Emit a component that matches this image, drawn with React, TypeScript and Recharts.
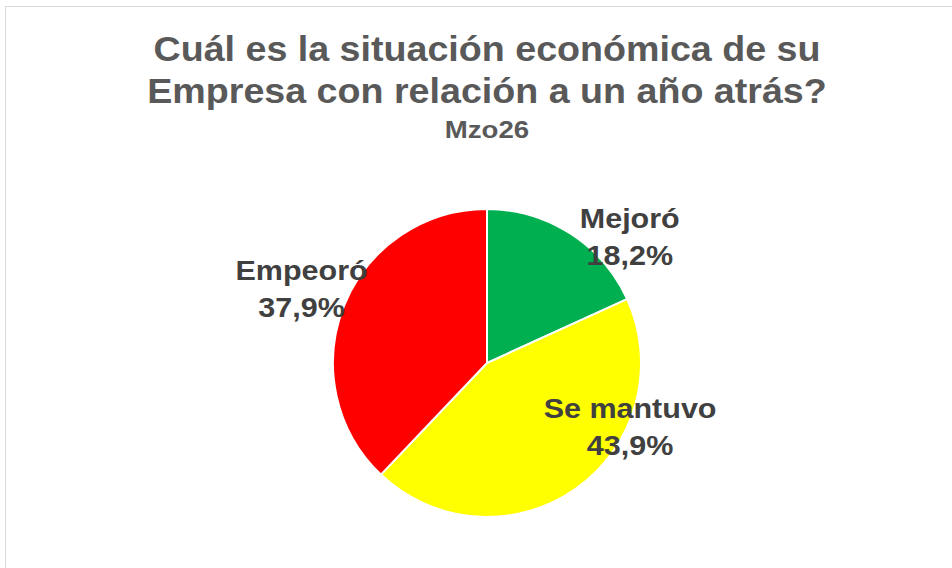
import React from 'react';
import { PieChart, Pie, Cell } from 'recharts';

const categories = ['Mejoró', 'Se mantuvo', 'Empeoró'];
const shares = [18.2, 43.9, 37.9];
const sliceColors = ['#00B050', '#FFFF00', '#FF0000'];

const titleLines = ['Cuál es la situación económica de su', 'Empresa con relación a un año atrás?'];
const subtitle = 'Mzo26';

// Excel "best fit" label placement, relative to the slice mid angle
const labelPlacement = [
  { shift: -18.0, factor: 1.197 },
  { shift: 27.5, factor: 1.043 },
  { shift: 2.6, factor: 1.275 },
];

const data = categories.map((name, i) => ({ name, value: shares[i] }));

const RADIAN = Math.PI / 180;
const FONT = '"Liberation Sans", Arial, sans-serif';

const renderLabel = (props: any) => {
  const { cx, cy, midAngle, outerRadius, index, name, value } = props;
  const p = labelPlacement[index];
  const a = (midAngle + p.shift) * RADIAN;
  const r = outerRadius * p.factor;
  const x = cx + r * Math.cos(a);
  const y = cy - r * Math.sin(a);
  return (
    <text
      transform={`translate(${x},${y}) scale(1.13,1)`}
      x={0}
      y={0}
      textAnchor="middle"
      fill="#404040"
      fontFamily={FONT}
      fontWeight="bold"
      fontSize={27}
    >
      <tspan x={0} dy={-18}>{name}</tspan>
      <tspan x={0} dy={37}>{value.toFixed(1).replace('.', ',')}%</tspan>
    </text>
  );
};

export default function App() {
  return (
    <div
      style={{
        position: 'absolute',
        left: 0,
        top: 0,
        width: 952,
        height: 568,
        overflow: 'hidden',
        background: '#fff',
        fontFamily: FONT,
      }}
    >
      <div
        style={{
          position: 'absolute',
          left: 5,
          top: 6,
          width: 1000,
          height: 600,
          border: '1px solid #d9d9d9',
        }}
      />
      <div
        style={{
          position: 'absolute',
          left: 0,
          top: 28,
          width: 974,
          textAlign: 'center',
          color: '#595959',
          fontWeight: 'bold',
          fontSize: 35,
          lineHeight: '42px',
        }}
      >
        {titleLines.map((t) => (
          <div key={t} style={{ transform: 'scaleX(1.075)' }}>{t}</div>
        ))}
        <div style={{ fontSize: 24, lineHeight: '36px', transform: 'scaleX(1.15)' }}>{subtitle}</div>
      </div>
      <div style={{ position: 'absolute', left: 0, top: 0 }}>
        <PieChart width={952} height={568}>
          <Pie
            data={data}
            dataKey="value"
            nameKey="name"
            cx={482}
            cy={358}
            outerRadius={154}
            startAngle={90}
            endAngle={-270}
            stroke="#ffffff"
            strokeWidth={2}
            label={renderLabel}
            labelLine={false}
            isAnimationActive={false}
          >
            {data.map((d, i) => (
              <Cell key={d.name} fill={sliceColors[i]} />
            ))}
          </Pie>
        </PieChart>
      </div>
    </div>
  );
}
